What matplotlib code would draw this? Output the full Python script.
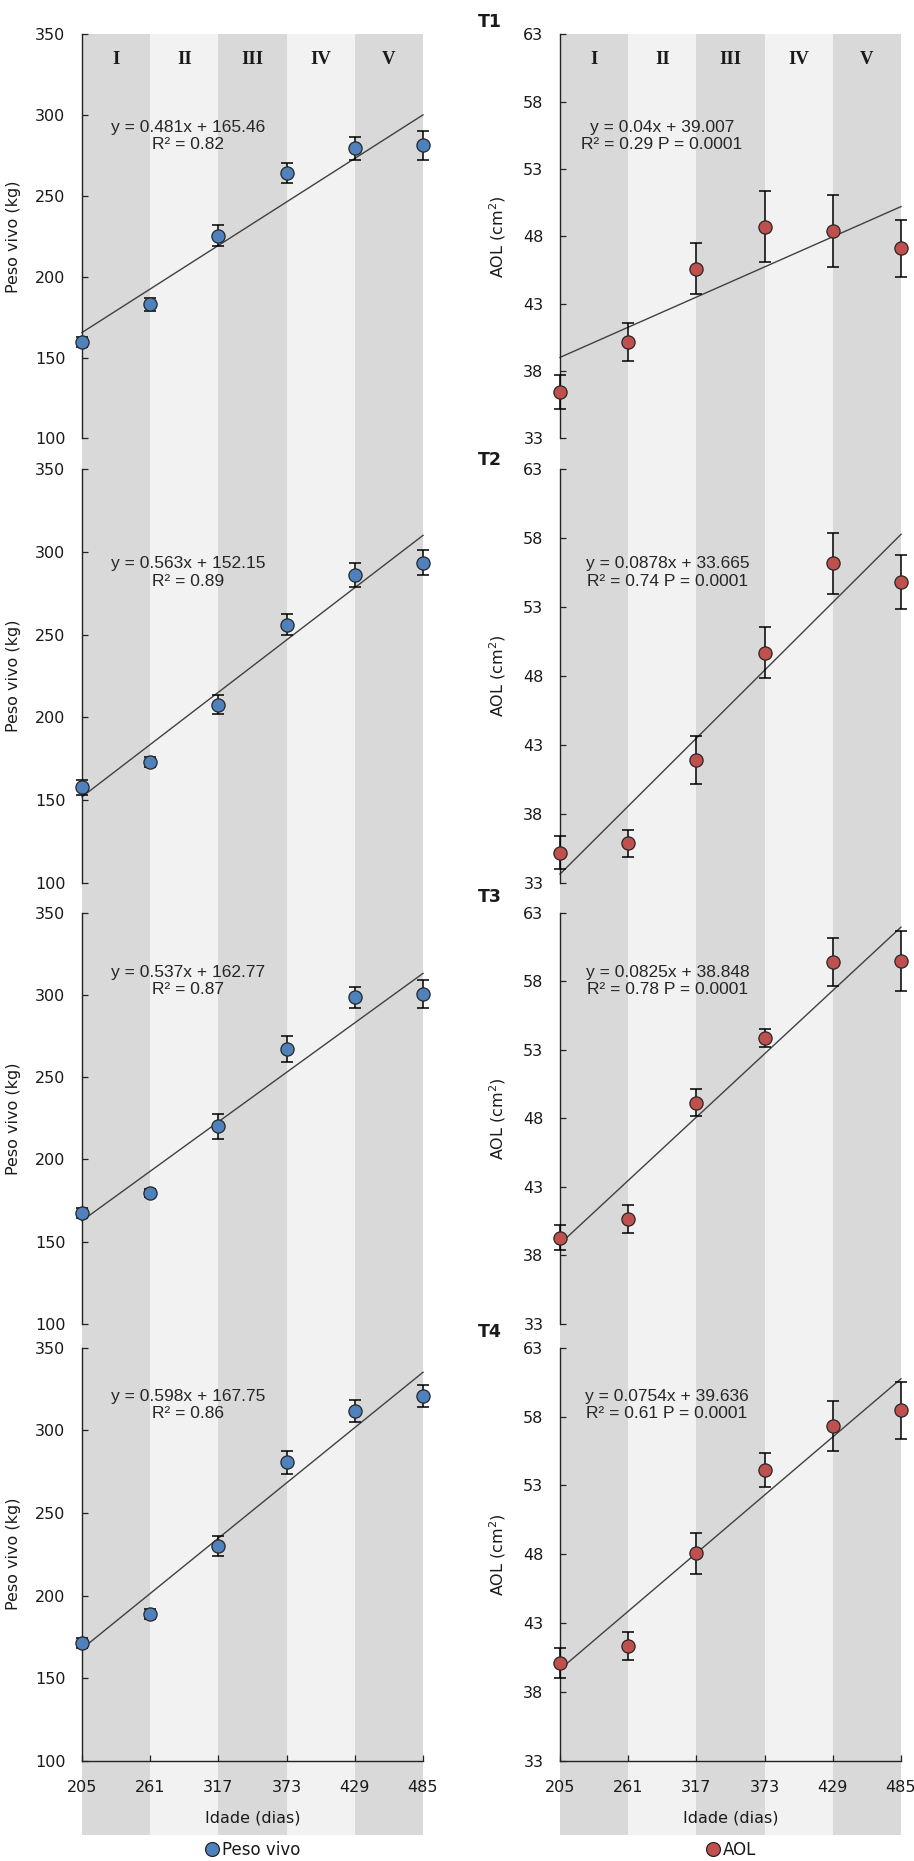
import numpy as np
import matplotlib
matplotlib.use("Agg")
import matplotlib.pyplot as plt
from matplotlib.lines import Line2D

# ---------------- data ----------------
days = [205, 261, 317, 373, 429, 485]
band_edges = [205, 261, 317, 373, 429, 485]
band_labels = ["I", "II", "III", "IV", "V"]
treatments = ["T1", "T2", "T3", "T4"]

peso_t1 = [159.8, 182.9, 225.4, 264.0, 279.5, 281.3]
peso_t1_err = [3.0, 4.0, 6.6, 6.2, 7.2, 9.0]
peso_t2 = [157.8, 172.9, 207.8, 256.0, 285.9, 293.4]
peso_t2_err = [4.5, 3.0, 5.7, 6.2, 7.0, 7.5]
peso_t3 = [167.3, 179.8, 220.1, 267.1, 298.5, 300.4]
peso_t3_err = [3.0, 2.5, 7.6, 8.0, 6.6, 8.5]
peso_t4 = [171.0, 188.7, 229.8, 280.6, 311.7, 320.8]
peso_t4_err = [3.0, 3.0, 6.0, 6.8, 6.6, 6.8]

aol_t1 = [36.44, 40.15, 45.60, 48.72, 48.40, 47.10]
aol_t1_err = [1.26, 1.40, 1.90, 2.65, 2.65, 2.10]
aol_t2 = [35.22, 35.90, 41.90, 49.70, 56.15, 54.80]
aol_t2_err = [1.20, 0.97, 1.75, 1.87, 2.20, 1.92]
aol_t3 = [39.30, 40.66, 49.14, 53.88, 59.40, 59.50]
aol_t3_err = [0.91, 1.02, 1.00, 0.67, 1.76, 2.20]
aol_t4 = [40.08, 41.34, 48.08, 54.15, 57.30, 58.46]
aol_t4_err = [1.09, 1.00, 1.48, 1.24, 1.82, 2.09]

peso_slope = [0.481, 0.563, 0.537, 0.598]
peso_icpt = [165.46, 152.15, 162.77, 167.75]
peso_r2 = ["0.82", "0.89", "0.87", "0.86"]
aol_slope = [0.04, 0.0878, 0.0825, 0.0754]
aol_icpt = [39.007, 33.665, 38.848, 39.636]
aol_r2 = ["0.29", "0.74", "0.78", "0.61"]
aol_p = "0.0001"

peso_vals = [peso_t1, peso_t2, peso_t3, peso_t4]
peso_errs = [peso_t1_err, peso_t2_err, peso_t3_err, peso_t4_err]
aol_vals = [aol_t1, aol_t2, aol_t3, aol_t4]
aol_errs = [aol_t1_err, aol_t2_err, aol_t3_err, aol_t4_err]

peso_ticks = [100, 150, 200, 250, 300, 350]
aol_ticks = [33, 38, 43, 48, 53, 58, 63]

# ---------------- layout ----------------
W, H = 914, 1861
fig = plt.figure(figsize=(W / 100, H / 100), dpi=100)
plt.rcParams["font.family"] = ["DejaVu Sans"]

DARK = "#d9d9d9"
LIGHT = "#f2f2f2"
BLUE = "#4f81bd"
RED = "#c0504d"
TXT = "#1a1a1a"
AXC = "#222222"

cols_px = [(82, 423), (560, 901)]
rows_px = [(34.3, 438.3), (468.7, 883.3), (912.7, 1324.0), (1347.8, 1760.7)]
band_bottom = 1835


def rect(x0, y0, x1, y1):
    return [x0 / W, 1 - y1 / H, (x1 - x0) / W, (y1 - y0) / H]


def fx(x):
    return x / W


def fy(y):
    return 1 - y / H


# background bands
for (x0, x1) in cols_px:
    bg = fig.add_axes(rect(x0, rows_px[0][0], x1, band_bottom), zorder=0)
    bg.set_xlim(band_edges[0], band_edges[-1])
    bg.set_ylim(0, 1)
    for i in range(len(band_edges) - 1):
        bg.axvspan(band_edges[i], band_edges[i + 1], color=DARK if i % 2 == 0 else LIGHT, lw=0)
    bg.axis("off")

eq_y = [136, 572.5, 981, 1405]
eq_x = [[188, 188, 188, 188], [662, 668, 668, 667]]
t_label_y = [22, 460, 897, 1332]

for ci in range(2):
    x0, x1 = cols_px[ci]
    for ri in range(4):
        y0, y1 = rows_px[ri]
        ax = fig.add_axes(rect(x0, y0, x1, y1), zorder=2)
        ax.set_facecolor("none")
        ax.set_xlim(days[0], days[-1])
        if ci == 0:
            vals, errs, col = peso_vals[ri], peso_errs[ri], BLUE
            m, b = peso_slope[ri], peso_icpt[ri]
            ax.set_ylim(peso_ticks[0], peso_ticks[-1])
            ax.set_yticks(peso_ticks)
            ax.set_ylabel("Peso vivo (kg)", fontsize=11.5, color=TXT)
            ax.yaxis.set_label_coords((21 - x0) / (x1 - x0), 0.5)
            eq = f"y = {m}x + {b}\nR² = {peso_r2[ri]}"
            leg_label = "Peso vivo"
        else:
            vals, errs, col = aol_vals[ri], aol_errs[ri], RED
            m, b = aol_slope[ri], aol_icpt[ri]
            ax.set_ylim(aol_ticks[0], aol_ticks[-1])
            ax.set_yticks(aol_ticks)
            ax.set_ylabel("AOL (cm$^{2}$)", fontsize=11.5, color=TXT)
            ax.yaxis.set_label_coords((508 - x0) / (x1 - x0), 0.5)
            eq = f"y = {m}x + {b:.3f}\nR² = {aol_r2[ri]} P = {aol_p}"
            leg_label = "AOL"

        # trendline
        tx = np.array([days[0], days[-1]], dtype=float)
        ty = b + m * (tx - days[0])
        ax.plot(tx, ty, color="#404040", lw=1.0, zorder=2, clip_on=False)

        # error bars & markers
        eb = ax.errorbar(days, vals, yerr=errs, fmt="none", ecolor="black",
                         elinewidth=1.1, capsize=4, capthick=1.1, zorder=3)
        for a in list(eb.lines[1]) + list(eb.lines[2]):
            a.set_clip_on(False)
        pts, = ax.plot(days, vals, "o", ms=9.5, mfc=col, mec="#262626", mew=0.9,
                       zorder=4, clip_on=False, label=leg_label)

        # spines/ticks
        for s in ["top", "right"]:
            ax.spines[s].set_visible(False)
        ax.spines["left"].set_color(AXC)
        ax.spines["left"].set_linewidth(1.0)
        ax.tick_params(axis="y", direction="in", length=4.5, width=0.9, color=AXC,
                       labelsize=11.5, labelcolor=TXT, pad=12)
        if ri < 3:
            ax.spines["bottom"].set_visible(False)
            ax.tick_params(axis="x", bottom=False, labelbottom=False)
        else:
            ax.spines["bottom"].set_color(AXC)
            ax.spines["bottom"].set_linewidth(1.0)
            ax.set_xticks(days)
            ax.tick_params(axis="x", direction="in", length=4.5, width=0.9, color=AXC,
                           labelsize=11.5, labelcolor=TXT, pad=14)
            ax.set_xlabel("Idade (dias)", fontsize=11.5, color=TXT)
            ax.xaxis.set_label_coords(0.5, -(1818 - y1) / (y1 - y0))
            ax.xaxis.label.set_va("center")
            h = Line2D([], [], ls="none", marker="o", ms=10, mfc=col, mec="#262626", mew=0.9)
            ax.legend([h], [leg_label], loc="center",
                      bbox_to_anchor=(0.5, -(1850 - y1) / (y1 - y0)),
                      frameon=False, fontsize=12, handletextpad=0.1,
                      handlelength=1.0, borderaxespad=0, labelcolor=TXT)

        # roman numerals
        if ri == 0:
            for i, lab in enumerate(band_labels):
                cx = (band_edges[i] + band_edges[i + 1]) / 2
                ax.text(cx, 1 - (59 - y0) / (y1 - y0), lab, transform=ax.get_xaxis_transform(),
                        ha="center", va="center", fontsize=13.5, fontweight="bold",
                        family="Liberation Serif", color=TXT)

        # equation
        fig.text(fx(eq_x[ci][ri]), fy(eq_y[ri]), eq, ha="center", va="center",
                 multialignment="center", fontsize=12.5, family="Liberation Sans",
                 color="#262626", linespacing=1.2, zorder=5)

        if ci == 1:
            fig.text(fx(478), fy(t_label_y[ri]), treatments[ri], ha="left", va="center",
                     fontsize=12.5, fontweight="bold", color=TXT)

fig.savefig("out.png", dpi=100, facecolor="white")
